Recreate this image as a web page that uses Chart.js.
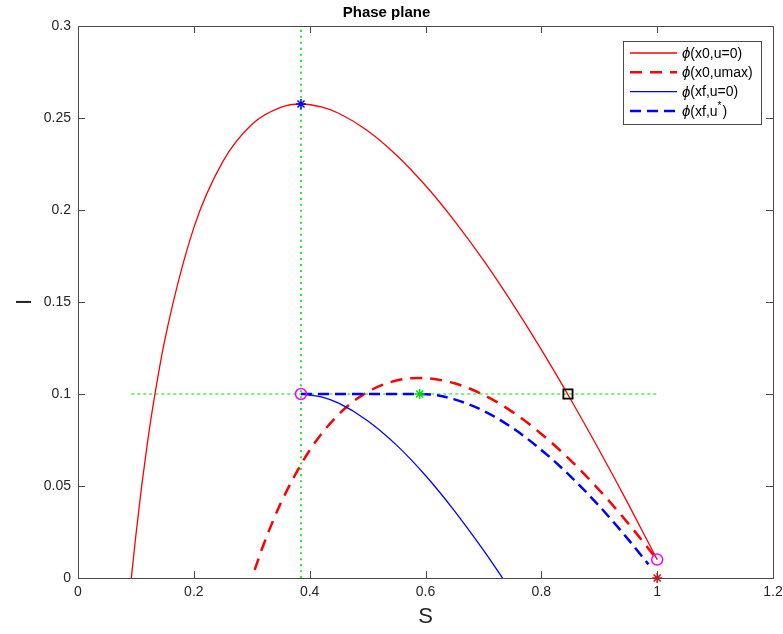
<!DOCTYPE html>
<html>
<head>
<meta charset="utf-8">
<title>Phase plane</title>
<script src="https://cdn.jsdelivr.net/npm/chart.js@4.4.1/dist/chart.umd.min.js"></script>
<style>
  html, body { margin: 0; padding: 0; background: #fff; }
</style>
</head>
<body>
<canvas id="phase" width="783" height="634"></canvas>
<script>
// trajectories in the (S, I) plane
const x0FreeS = [0.092, 0.095, 0.1, 0.11, 0.12, 0.13, 0.15, 0.2, 0.25, 0.3, 0.35, 0.385, 0.42, 0.45, 0.5, 0.55, 0.6, 0.65, 0.7, 0.75, 0.8, 0.85, 0.9, 0.95, 1.0];
const x0FreeI = [0, 0.0087, 0.0235, 0.0502, 0.0737, 0.0945, 0.1296, 0.1904, 0.2263, 0.2465, 0.2558, 0.2576, 0.2560, 0.2526, 0.2431, 0.2298, 0.2133, 0.1941, 0.1727, 0.1492, 0.1241, 0.0974, 0.0694, 0.0403, 0.01];

const x0MaxS = [0.305, 0.32, 0.35, 0.4, 0.45, 0.5, 0.55, 0.59, 0.65, 0.7, 0.75, 0.8, 0.85, 0.9, 0.95, 1.0];
const x0MaxI = [0.0044, 0.0178, 0.0406, 0.0694, 0.0889, 0.1011, 0.1073, 0.1087, 0.1058, 0.0996, 0.0903, 0.0783, 0.0641, 0.0478, 0.0297, 0.01];

const xfFreeS = [0.385, 0.42, 0.45, 0.5, 0.55, 0.6, 0.65, 0.7, 0.733];
const xfFreeI = [0.1, 0.0984, 0.0950, 0.0855, 0.0722, 0.0557, 0.0365, 0.0151, 0];

const xfOptS = [0.385, 0.45, 0.5, 0.55, 0.59, 0.62, 0.65, 0.7, 0.75, 0.8, 0.85, 0.9, 0.95, 0.985];
const xfOptI = [0.1, 0.1, 0.1, 0.1, 0.1, 0.0993, 0.0971, 0.0909, 0.0816, 0.0696, 0.0554, 0.0391, 0.0210, 0.0074];

// guide lines: S at the epidemic peak, I at the capacity level
const peakLineS = [0.385, 0.385];
const peakLineI = [0, 0.3];
const capLineS = [0.092, 1.0];
const capLineI = [0.1, 0.1];

// marked points
const peakS = [0.385], peakI = [0.2576];
const switchS = [0.59], switchI = [0.1];
const crossS = [0.846], crossI = [0.1];
const circleS = [0.385, 1.0], circleI = [0.1, 0.01];
const initS = [1.0], initI = [0];

const xTicks = [0, 0.2, 0.4, 0.6, 0.8, 1, 1.2];
const xTickLabels = ['0', '0.2', '0.4', '0.6', '0.8', '1', '1.2'];
const yTicks = [0, 0.05, 0.1, 0.15, 0.2, 0.25, 0.3];
const yTickLabels = ['0', '0.05', '0.1', '0.15', '0.2', '0.25', '0.3'];

const legendLabels = ['(x0,u=0)', '(x0,umax)', '(xf,u=0)', '(xf,u'];

const FONT = '"Liberation Sans", Arial, Helvetica, sans-serif';
const AXIS = '#4a4a4a';

const pts = (s, i) => s.map((v, k) => ({ x: v, y: i[k] }));

function curve(s, i, color, width, dash, order) {
  return {
    data: pts(s, i),
    borderColor: color,
    borderWidth: width,
    borderDash: dash,
    pointRadius: 0,
    cubicInterpolationMode: 'monotone',
    fill: false,
    order
  };
}

function marker(s, i, style, color, radius, width, order) {
  return {
    data: pts(s, i),
    showLine: false,
    pointStyle: style,
    pointRadius: radius,
    borderColor: color,
    backgroundColor: 'rgba(0,0,0,0)',
    borderWidth: width,
    clip: false,
    order
  };
}

// inward ticks on all four sides plus the axes box
const boxTicks = {
  id: 'boxTicks',
  afterDraw(chart) {
    const { ctx, chartArea: a, scales: { x, y } } = chart;
    const len = 7;
    ctx.save();
    ctx.strokeStyle = AXIS;
    ctx.lineWidth = 1;
    ctx.beginPath();
    xTicks.forEach(v => {
      const px = Math.round(x.getPixelForValue(v)) + 0.5;
      ctx.moveTo(px, a.bottom); ctx.lineTo(px, a.bottom - len);
      ctx.moveTo(px, a.top); ctx.lineTo(px, a.top + len);
    });
    yTicks.forEach(v => {
      const py = Math.round(y.getPixelForValue(v)) + 0.5;
      ctx.moveTo(a.left, py); ctx.lineTo(a.left + len, py);
      ctx.moveTo(a.right, py); ctx.lineTo(a.right - len, py);
    });
    ctx.stroke();
    ctx.strokeRect(Math.round(a.left) + 0.5, Math.round(a.top) + 0.5,
      Math.round(a.right - a.left), Math.round(a.bottom - a.top));
    ctx.restore();
  }
};

// boxed legend in the upper right corner
const phaseLegend = {
  id: 'phaseLegend',
  afterDraw(chart) {
    const ctx = chart.ctx;
    const bx = 623, by = 41, bw = 138, bh = 83;
    ctx.save();
    ctx.fillStyle = '#fff';
    ctx.fillRect(bx, by, bw, bh);
    ctx.strokeStyle = AXIS;
    ctx.lineWidth = 1;
    ctx.strokeRect(bx + 0.5, by + 0.5, bw, bh);
    legendLabels.forEach((label, k) => {
      const ds = chart.data.datasets[k];
      const ly = 53 + k * 19.3;
      ctx.strokeStyle = ds.borderColor;
      ctx.lineWidth = ds.borderWidth;
      ctx.setLineDash(ds.borderDash || []);
      ctx.beginPath();
      ctx.moveTo(630, ly);
      ctx.lineTo(677, ly);
      ctx.stroke();
      ctx.setLineDash([]);
      ctx.fillStyle = '#000';
      ctx.textBaseline = 'middle';
      ctx.font = 'italic 15px ' + FONT;
      ctx.fillText('ϕ', 682, ly + 1);
      const phiW = ctx.measureText('ϕ').width;
      ctx.font = '14px ' + FONT;
      ctx.fillText(label, 682 + phiW, ly + 1);
      if (k === 3) {
        const w = ctx.measureText(label).width;
        ctx.font = '10px ' + FONT;
        ctx.fillText('*', 682 + phiW + w, ly - 5);
        ctx.font = '14px ' + FONT;
        ctx.fillText(')', 682 + phiW + w + 5, ly + 1);
      }
    });
    ctx.restore();
  }
};

new Chart(document.getElementById('phase'), {
  type: 'line',
  data: {
    datasets: [
      curve(x0FreeS, x0FreeI, '#ff0000', 1.3, [], 3),
      curve(x0MaxS, x0MaxI, '#ff0000', 2.5, [12, 8], 3),
      curve(xfFreeS, xfFreeI, '#0000ff', 1.3, [], 2),
      curve(xfOptS, xfOptI, '#0000ff', 2.5, [11, 6], 2),
      curve(peakLineS, peakLineI, '#00e000', 1.6, [2, 4], 5),
      curve(capLineS, capLineI, '#4cf04c', 1.3, [3, 3], 5),
      marker(peakS, peakI, 'star', '#0000ff', 5, 1.5, 0),
      marker(switchS, switchI, 'star', '#00dd00', 5, 1.5, 0),
      marker(crossS, crossI, 'rect', '#000000', 6.5, 1.8, 0),
      marker(circleS, circleI, 'circle', '#ff00ff', 5.5, 1.5, 0),
      marker(initS, initI, 'star', '#ff0000', 5, 1.5, 0)
    ]
  },
  options: {
    responsive: false,
    animation: false,
    events: [],
    layout: { padding: { top: 0, right: 10, left: 0, bottom: 0 } },
    plugins: {
      legend: { display: false },
      tooltip: { enabled: false },
      title: {
        display: true,
        text: 'Phase plane',
        color: '#000',
        font: { family: FONT, size: 15, weight: 'bold' },
        padding: { top: 4, bottom: 4 }
      }
    },
    scales: {
      x: {
        type: 'linear',
        min: 0,
        max: 1.2,
        afterBuildTicks: s => { s.ticks = xTicks.map(v => ({ value: v })); },
        afterFit: s => { s.height = 56; s.paddingLeft = 0; s.paddingRight = 0; },
        grid: { display: false, drawTicks: false },
        border: { display: false },
        ticks: {
          padding: 6,
          color: '#262626',
          font: { family: FONT, size: 14 },
          callback: (v, k) => xTickLabels[k]
        },
        title: {
          display: true,
          text: 'S',
          color: '#262626',
          font: { family: FONT, size: 22 },
          padding: { top: 4, bottom: 4 }
        }
      },
      y: {
        type: 'linear',
        min: 0,
        max: 0.3,
        afterBuildTicks: s => { s.ticks = yTicks.map(v => ({ value: v })); },
        afterFit: s => { s.width = 78; },
        grid: { display: false, drawTicks: false },
        border: { display: false },
        ticks: {
          padding: 7,
          color: '#262626',
          font: { family: FONT, size: 14 },
          callback: (v, k) => yTickLabels[k]
        },
        title: {
          display: true,
          text: 'I',
          color: '#262626',
          font: { family: FONT, size: 22 },
          padding: { top: 12, bottom: 4 }
        }
      }
    }
  },
  plugins: [boxTicks, phaseLegend]
});
</script>
</body>
</html>
